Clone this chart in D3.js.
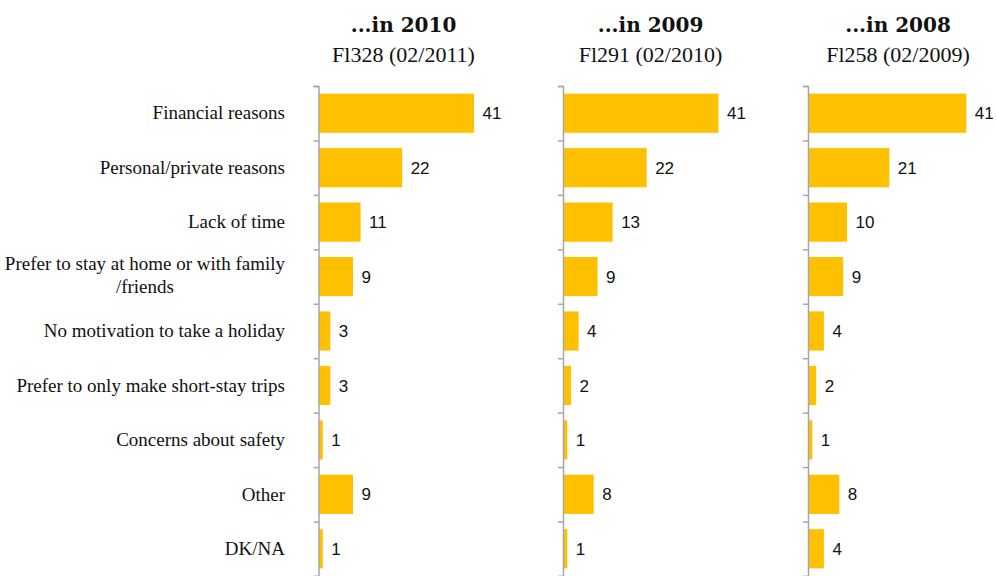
<!DOCTYPE html>
<html><head><meta charset="utf-8">
<script src="https://cdn.jsdelivr.net/npm/d3@7"></script>
<style>
html,body{margin:0;padding:0;background:#fff;}
svg{display:block;}
</style></head>
<body>
<svg id="chart" width="997" height="576"></svg>
<script>
// ---- data ----
const categories = [
  "Financial reasons",
  "Personal/private reasons",
  "Lack of time",
  "Prefer to stay at home or with family\n/friends",
  "No motivation to take a holiday",
  "Prefer to only make short-stay trips",
  "Concerns about safety",
  "Other",
  "DK/NA"
];
const titles = ["...in 2010", "...in 2009", "...in 2008"];
const subtitles = ["Fl328 (02/2011)", "Fl291 (02/2010)", "Fl258 (02/2009)"];
const values2010 = [41, 22, 11, 9, 3, 3, 1, 9, 1];
const values2009 = [41, 22, 13, 9, 4, 2, 1, 8, 1];
const values2008 = [41, 21, 10, 9, 4, 2, 1, 8, 4];
const series = [values2010, values2009, values2008];

// ---- layout ----
const axisX = [318.5, 563, 808];
const unitPx = [3.78, 3.78, 3.85];
const plotTop = 86, plotBottom = 576;
const labelRight = 285;
const barColor = "#FFC000";
const axisColor = "#a6a6a6";

const svg = d3.select("#chart");

const y = d3.scaleBand().domain(categories).range([plotTop, plotBottom])
  .paddingInner(0.28).paddingOuter(0.14);
const yb = d3.scaleLinear().domain([0, categories.length]).range([plotTop, plotBottom]);

// category labels
const lab = svg.append("g").attr("font-family", "'Liberation Serif', 'DejaVu Serif', serif")
  .attr("font-size", 19).attr("fill", "#111");
categories.forEach(c => {
  const lines = c.split("\n");
  const cy = y(c) + y.bandwidth() / 2;
  if (lines.length === 1) {
    lab.append("text").attr("x", labelRight).attr("y", cy).attr("dy", "0.33em")
      .attr("text-anchor", "end").text(c);
  } else {
    const lh = 23;
    const t1 = lab.append("text").attr("x", labelRight).attr("y", cy - lh / 2 - 1).attr("dy", "0.33em")
      .attr("text-anchor", "end").text(lines[0]);
    const w1 = t1.node().getComputedTextLength();
    lab.append("text").attr("x", labelRight - w1 / 2).attr("y", cy + lh / 2 - 1).attr("dy", "0.33em")
      .attr("text-anchor", "middle").text(lines[1]);
  }
});

series.forEach((vals, i) => {
  const x = d3.scaleLinear().domain([0, 50]).range([axisX[i], axisX[i] + 50 * unitPx[i]]);
  const g = svg.append("g");

  // bars
  g.selectAll("rect").data(vals).join("rect")
    .attr("x", x(0) + 0.5)
    .attr("y", (d, j) => y(categories[j]))
    .attr("width", d => x(d) - x(0))
    .attr("height", y.bandwidth())
    .attr("fill", barColor);

  // value labels
  g.selectAll("text.val").data(vals).join("text").attr("class", "val")
    .attr("x", d => x(d) + 9)
    .attr("y", (d, j) => y(categories[j]) + y.bandwidth() / 2)
    .attr("dy", "0.36em")
    .attr("font-family", "'Liberation Sans', Arial, sans-serif")
    .attr("font-size", 17)
    .attr("fill", "#111")
    .text(d => d);

  // axis
  const ax = svg.append("g").attr("transform", `translate(${axisX[i]},0)`)
    .call(d3.axisLeft(yb).tickValues(d3.range(0, categories.length + 1))
      .tickSize(5).tickSizeOuter(5).tickFormat(""));
  ax.selectAll("path,line").attr("stroke", axisColor).attr("stroke-width", 1.5);

  // titles
  const cx = axisX[i] + 85 + i * 2.5;
  svg.append("text").attr("x", cx).attr("y", 32).attr("text-anchor", "middle")
    .attr("font-family", "'DejaVu Serif', 'Liberation Serif', serif")
    .attr("font-weight", "bold").attr("font-size", 20).attr("fill", "#111")
    .text(titles[i]);
  svg.append("text").attr("x", cx).attr("y", 62).attr("text-anchor", "middle")
    .attr("font-family", "'Liberation Serif', 'DejaVu Serif', serif")
    .attr("font-size", 22).attr("fill", "#111")
    .text(subtitles[i]);
});
</script>
</body></html>
